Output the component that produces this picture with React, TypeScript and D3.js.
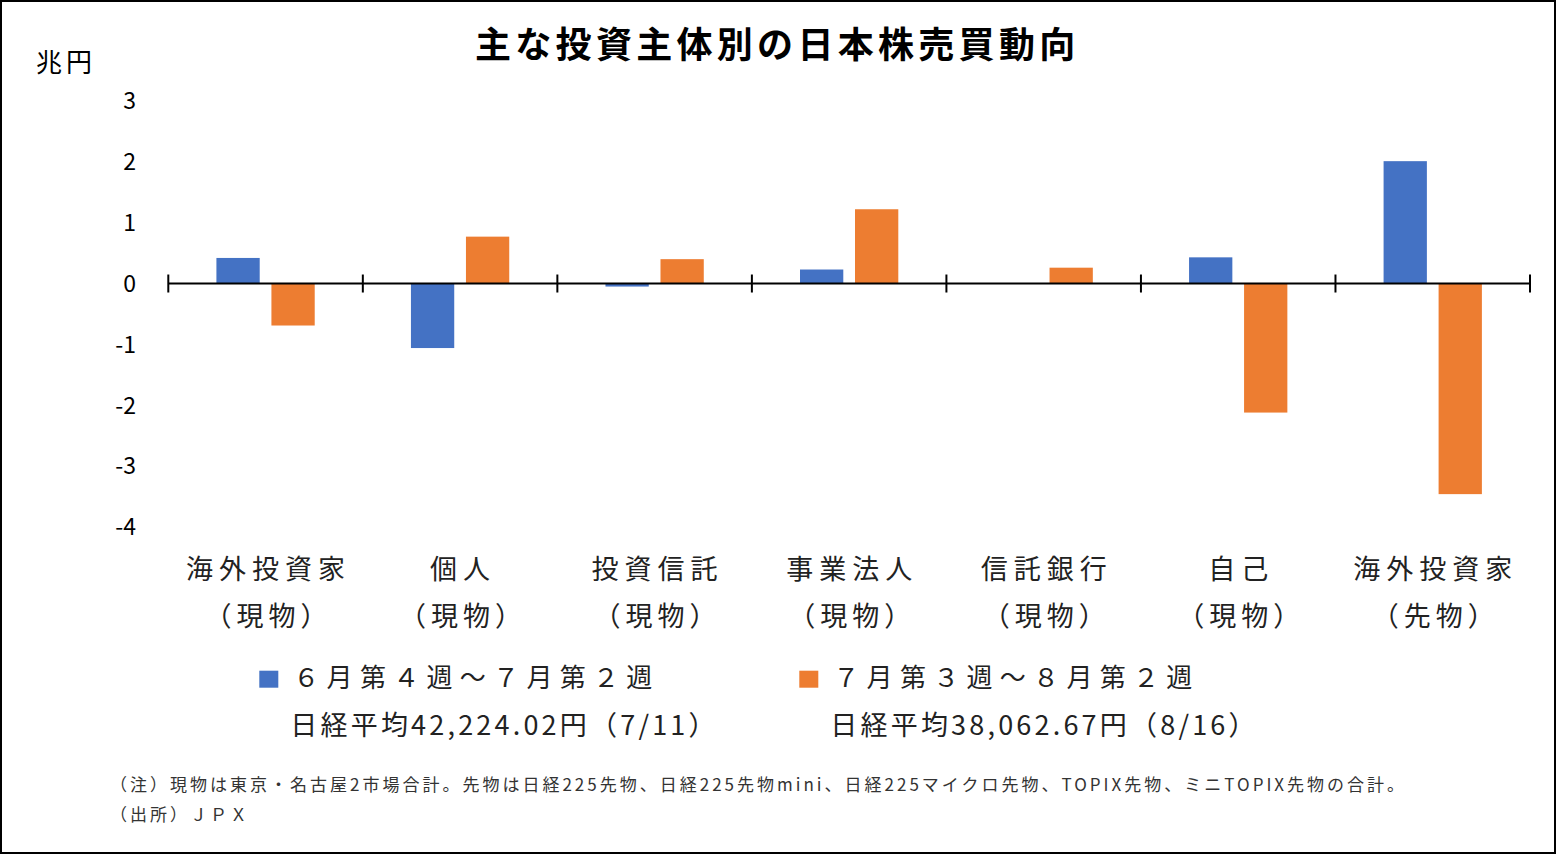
import React from "react";
import * as d3 from "d3";

const categoriesLine1 = ["海外投資家", "個人", "投資信託", "事業法人", "信託銀行", "自己", "海外投資家"];
const categoriesLine2 = ["（現物）", "（現物）", "（現物）", "（現物）", "（現物）", "（現物）", "（先物）"];
const seriesNames = ["６月第４週～７月第２週", "７月第３週～８月第２週"];
const seriesSub = ["日経平均42,224.02円（7/11）", "日経平均38,062.67円（8/16）"];
const seriesA = [0.42, -1.06, -0.05, 0.23, 0, 0.43, 2.01];
const seriesB = [-0.69, 0.77, 0.4, 1.22, 0.26, -2.12, -3.46];
const yTicks = [3, 2, 1, 0, -1, -2, -3, -4];
const colors = ["#4472C4", "#ED7D31"];

const W = 1556;
const H = 854;
const FONT = "'Noto Sans CJK JP', 'Noto Sans', sans-serif";

export default function App() {
  const idx = categoriesLine1.map((_, i) => String(i));
  const x0 = d3.scaleBand<string>().domain(idx).range([168.3, 1530]).padding(0);
  const groupW = 98.3;
  const x1 = d3.scaleBand<string>().domain(["a", "b"]).range([0, groupW]).paddingInner(0.213);
  const y = d3.scaleLinear().domain([-4, 3]).range([527, 100.9]);
  const off = (x0.bandwidth() - groupW) / 2;
  const series = [seriesA, seriesB];
  const boundaries = idx.map((d) => x0(d) as number).concat([1530]);
  const y0 = y(0);

  return (
    <svg width={W} height={H} style={{ position: "absolute", left: 0, top: 0, background: "#fff" }} fontFamily={FONT}>
      <rect x={1} y={1} width={W - 2} height={H - 2} fill="#fff" stroke="#000" strokeWidth={2} />
      <text x={475} y={58} fontSize={36} fontWeight={700} letterSpacing={4.3} fill="#000">
        主な投資主体別の日本株売買動向
      </text>
      <text x={36} y={72} fontSize={26} letterSpacing={4} fill="#000">兆円</text>
      {yTicks.map((t) => (
        <text key={t} x={136} y={y(t)} dy="0.36em" textAnchor="end" fontSize={23} fill="#000">
          {t}
        </text>
      ))}
      {series.map((vals, s) =>
        vals.map((v, i) => {
          if (v === 0) return null;
          const bx = (x0(String(i)) as number) + off + (x1(s === 0 ? "a" : "b") as number);
          const top = y(Math.max(0, v));
          const h = Math.abs(y(v) - y0);
          return <rect key={`${s}-${i}`} x={bx} y={top} width={x1.bandwidth()} height={h} fill={colors[s]} />;
        })
      )}
      <line x1={168.3} x2={1530} y1={y0} y2={y0} stroke="#000" strokeWidth={2} />
      {boundaries.map((b, i) => (
        <line key={i} x1={b} x2={b} y1={y0 - 9} y2={y0 + 9} stroke="#000" strokeWidth={2} />
      ))}
      {categoriesLine1.map((c, i) => {
        const cx = (x0(String(i)) as number) + x0.bandwidth() / 2;
        return (
          <g key={i}>
            <text x={cx + 3} y={579} textAnchor="middle" fontSize={27} letterSpacing={6} fill="#222">{c}</text>
            <text x={cx + 3} y={626} textAnchor="middle" fontSize={27} letterSpacing={5} fill="#222">{categoriesLine2[i]}</text>
          </g>
        );
      })}
      {seriesNames.map((n, s) => {
        const lx = s === 0 ? 259.3 : 799.3;
        return (
          <g key={s}>
            <rect x={lx} y={670.7} width={19} height={17} fill={colors[s]} />
            <text x={lx + 34} y={687} fontSize={26} letterSpacing={7.3} fill="#222">{n}</text>
            <text x={lx + 31} y={735} fontSize={27} letterSpacing={3.2} fill="#222">{seriesSub[s]}</text>
          </g>
        );
      })}
      <text x={110} y={791} fontSize={17} letterSpacing={3} fill="#333">
        （注）現物は東京・名古屋2市場合計。先物は日経225先物、日経225先物mini、日経225マイクロ先物、TOPIX先物、ミニTOPIX先物の合計。
      </text>
      <text x={110} y={821} fontSize={17} letterSpacing={3} fill="#333">（出所）ＪＰＸ</text>
    </svg>
  );
}
